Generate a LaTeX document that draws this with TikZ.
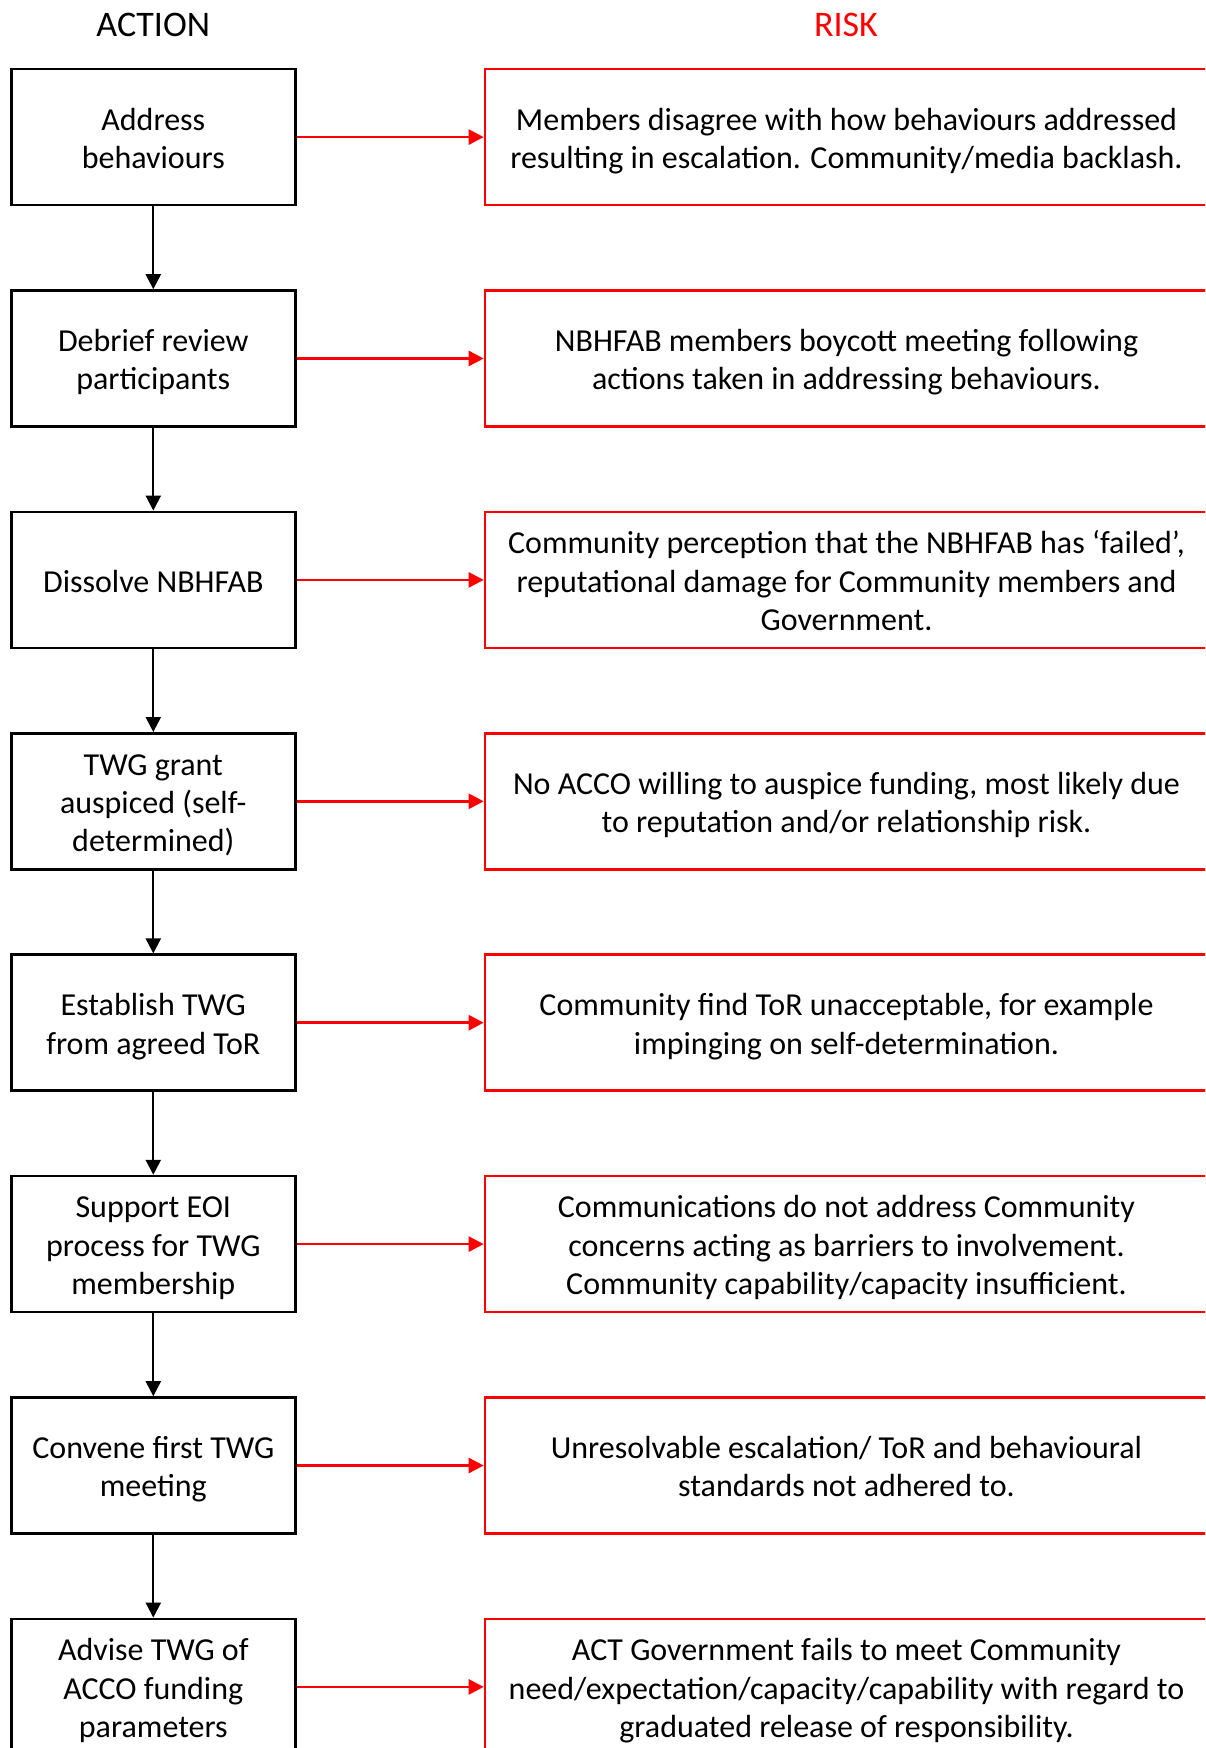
\documentclass[tikz,border=0pt]{standalone}
\usepackage{fontspec}
\setmainfont{Carlito}
\usetikzlibrary{arrows.meta}
\definecolor{riskred}{RGB}{255,0,0}
\newcommand{\TopStrutX}{\rule{0pt}{33pt}}
\newcommand{\BotStrutX}{\rule[-8.6pt]{0pt}{8.6pt}}
\tikzset{
  boxtext/.style={inner sep=0pt, align=center, font=\fontsize{32}{38.4}\selectfont},
  actbox/.style={boxtext, draw=black, line width=2.6pt, minimum width=284pt, minimum height=136pt},
  riskbox/.style={boxtext, draw=riskred, line width=2.6pt, minimum width=723pt, minimum height=136pt},
  heading/.style={inner sep=0pt, font=\fontsize{36}{43}\selectfont},
  downarrow/.style={draw=black, line width=2.2pt, -{Triangle[length=15pt,width=15pt]}},
  riskarrow/.style={draw=riskred, line width=2.6pt, -{Triangle[length=15pt,width=15pt]}}
}
\begin{document}
\begin{tikzpicture}[x=1pt,y=-1pt]
\clip (0,0) rectangle (1205,1748);
\useasboundingbox (0,0) rectangle (1205,1748);
\fill[white] (0,0) rectangle (1205,1748);
\node[heading] (hact) at (153.3,25) {ACTION};
\node[heading, text=riskred] (hrisk) at (846,25) {RISK};

\node[actbox] (a1) at (153.3,137.1) {\TopStrutX Address\\behaviours\BotStrutX};
\node[actbox] (a2) at (153.3,358.5) {\TopStrutX Debrief review\\participants\BotStrutX};
\node[actbox] (a3) at (153.3,579.9) {\TopStrutX Dissolve NBHFAB\BotStrutX};
\node[actbox] (a4) at (153.3,801.3) {\TopStrutX TWG grant\\auspiced (self-\\determined)\BotStrutX};
\node[actbox] (a5) at (153.3,1022.7) {\TopStrutX Establish TWG\\from agreed ToR\BotStrutX};
\node[actbox] (a6) at (153.3,1244.1) {\TopStrutX Support EOI\\process for TWG\\membership\BotStrutX};
\node[actbox] (a7) at (153.3,1465.5) {\TopStrutX Convene first TWG\\meeting\BotStrutX};
\node[actbox] (a8) at (153.3,1686.9) {\TopStrutX Advise TWG of\\ACCO funding\\parameters\BotStrutX};

\node[riskbox] (r1) at (846.5,137.1) {\TopStrutX Members disagree with how behaviours addressed\\resulting in escalation. Community/media backlash.\BotStrutX};
\node[riskbox] (r2) at (846.5,358.5) {\TopStrutX NBHFAB members boycott meeting following\\actions taken in addressing behaviours.\BotStrutX};
\node[riskbox] (r3) at (846.5,579.9) {\TopStrutX Community perception that the NBHFAB has ‘failed’,\\reputational damage for Community members and\\Government.\BotStrutX};
\node[riskbox] (r4) at (846.5,801.3) {\TopStrutX No ACCO willing to auspice funding, most likely due\\to reputation and/or relationship risk.\BotStrutX};
\node[riskbox] (r5) at (846.5,1022.7) {\TopStrutX Community find ToR unacceptable, for example\\impinging on self-determination.\BotStrutX};
\node[riskbox] (r6) at (846.5,1244.1) {\TopStrutX Communications do not address Community\\concerns acting as barriers to involvement.\\Community capability/capacity insufficient.\BotStrutX};
\node[riskbox] (r7) at (846.5,1465.5) {\TopStrutX Unresolvable escalation/ ToR and behavioural\\standards not adhered to.\BotStrutX};
\node[riskbox] (r8) at (846.5,1686.9) {\TopStrutX ACT Government fails to meet Community\\need/expectation/capacity/capability with regard to\\graduated release of responsibility.\BotStrutX};

\foreach \i/\j in {1/2,2/3,3/4,4/5,5/6,6/7,7/8} {
  \draw[downarrow] (a\i.south) -- (a\j.north);
}
\foreach \i in {1,...,8} {
  \draw[riskarrow] (a\i.east) -- (r\i.west);
}
\end{tikzpicture}
\end{document}
